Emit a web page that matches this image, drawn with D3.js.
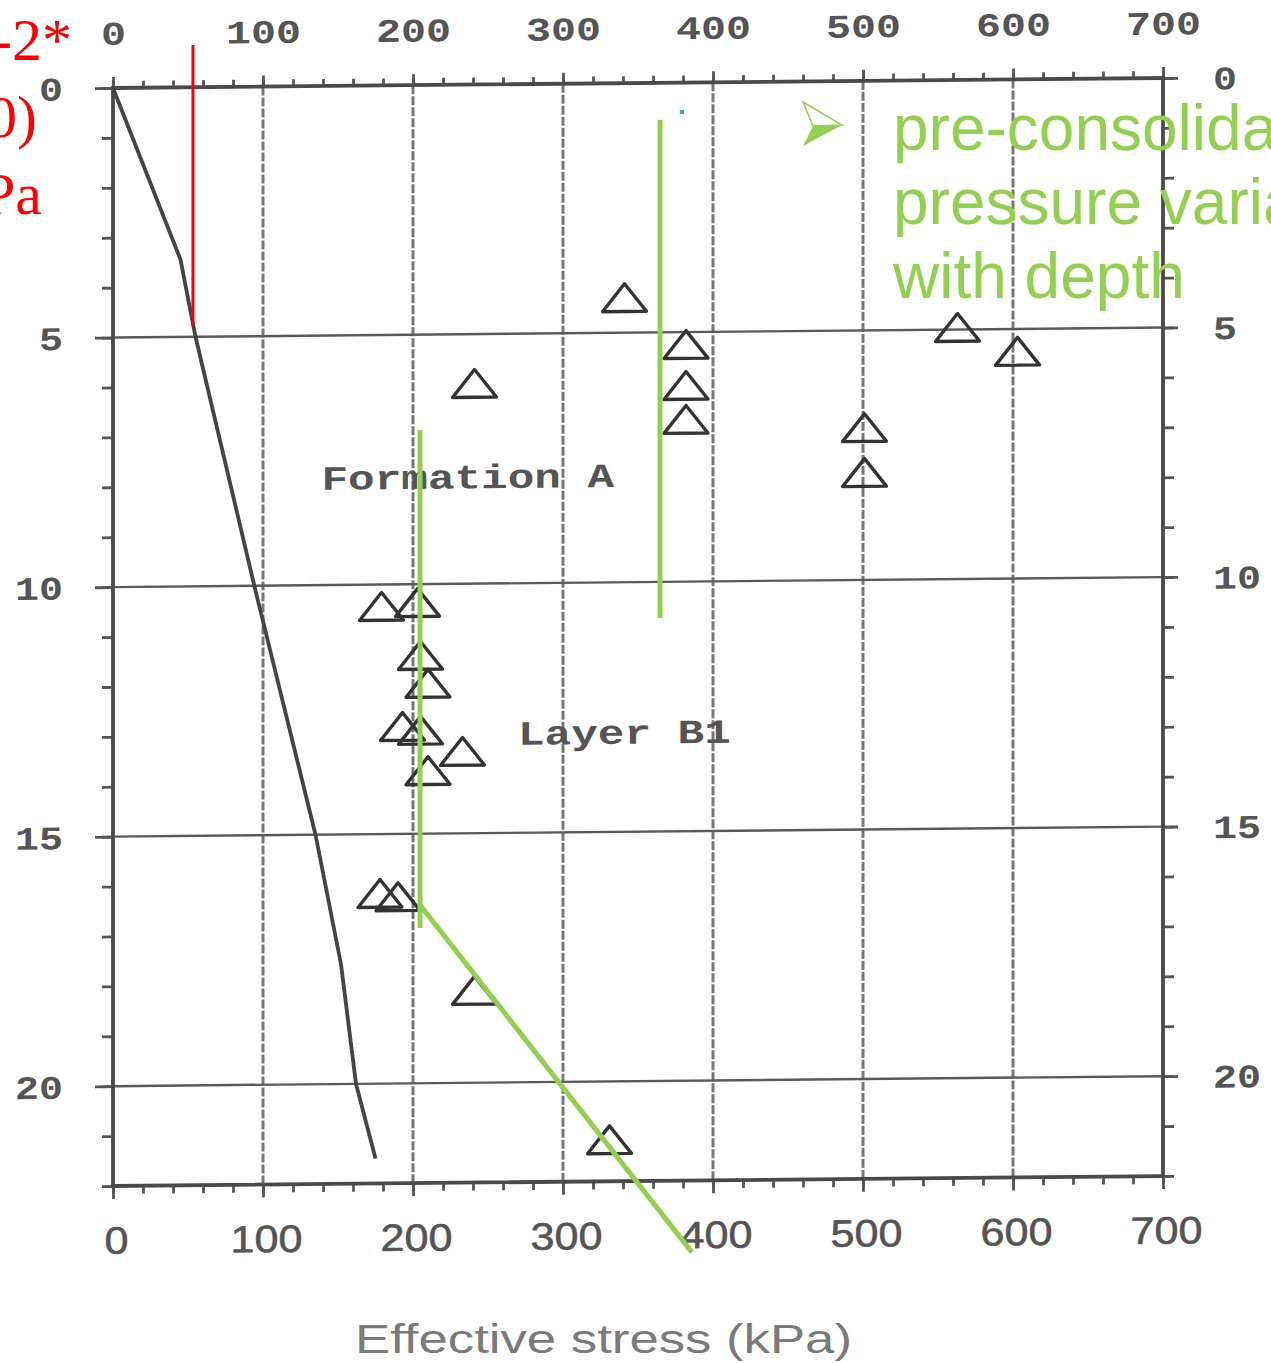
<!DOCTYPE html>
<html>
<head>
<meta charset="utf-8">
<script src="https://cdn.jsdelivr.net/npm/d3@7"></script>
<style>
  body { margin: 0; background: #fff; }
  svg { display: block; }
</style>
</head>
<body>
<svg id="chart" width="1271" height="1363"></svg>
<script>
// axis ticks
const stressTicks = [0, 100, 200, 300, 400, 500, 600, 700];
const depthTicks = [0, 5, 10, 15, 20];
const stressMinor = [0, 20, 40, 60, 80, 100, 120, 140, 160, 180, 200, 220, 240, 260, 280, 300, 320, 340, 360, 380, 400, 420, 440, 460, 480, 500, 520, 540, 560, 580, 600, 620, 640, 660, 680, 700];
const depthMinor = [0, 1, 2, 3, 4, 5, 6, 7, 8, 9, 10, 11, 12, 13, 14, 15, 16, 17, 18, 19, 20, 21, 22];

// oedometer test points (kPa, m)
const testStress = [341, 382, 382, 382, 241, 563, 603, 501, 501, 179, 203, 205, 210, 193, 205, 233, 210, 178, 190, 241, 331];
const testDepth = [4.35, 5.30, 6.12, 6.80, 6.04, 5.01, 5.50, 7.00, 7.90, 10.49, 10.42, 11.48, 12.04, 12.90, 12.98, 13.41, 13.79, 16.24, 16.31, 18.20, 21.22];

// in situ effective stress profile
const lineStress = [0, 45, 55, 95, 135, 152, 162, 175];
const lineDepth = [0, 3.45, 5.0, 10.1, 15.0, 17.6, 20.0, 21.5];

// overlay annotations (kPa, m)
const redStress = [53.3, 53.3];
const redDepth = [-0.86, 4.75];
const greenA = { stress: [364.7, 364.7], depth: [0.64, 10.62] };
const greenB = { stress: [204.7, 204.7], depth: [6.85, 16.83] };
const greenC = { stress: [204.7, 386], depth: [16.37, 23.33] };

const layerLabels = ['Formation A', 'Layer B1'];
const layerStress = [139, 270];
const layerDepth = [7.85, 13.0];
const noteLines = ['pre-consolidation', 'pressure variation', 'with depth'];
const redLines = ['-2*', '0)', 'Pa'];

const green = '#92d050';
const svg = d3.select('#chart');

const x = d3.scaleLinear().domain([0, 700]).range([113, 1163]);
const y = d3.scaleLinear().domain([0, 22]).range([88, 1186]);

// scanned chart is slightly skewed
const chart = svg.append('g').attr('transform', 'translate(0,1.07) skewY(-0.545)');

// grid
chart.append('g')
  .selectAll('line')
  .data(stressTicks.slice(1, -1))
  .join('line')
  .attr('x1', d => x(d)).attr('x2', d => x(d))
  .attr('y1', y(0)).attr('y2', y(22))
  .attr('stroke', '#777').attr('stroke-width', 3)
  .attr('stroke-dasharray', '9,2');

chart.append('g')
  .selectAll('line')
  .data(depthTicks.slice(1))
  .join('line')
  .attr('x1', x(0)).attr('x2', x(700))
  .attr('y1', d => y(d)).attr('y2', d => y(d))
  .attr('stroke', '#5a5a5a').attr('stroke-width', 2.4);

const styleAxis = g => {
  g.select('.domain').remove();
  g.selectAll('line').attr('stroke', '#555').attr('stroke-width', 2.8);
};

// minor ticks
chart.append('g').attr('transform', `translate(0,${y(0)})`)
  .call(d3.axisTop(x).tickValues(stressMinor).tickSize(7).tickFormat(''))
  .call(styleAxis);
chart.append('g').attr('transform', `translate(0,${y(22)})`)
  .call(d3.axisBottom(x).tickValues(stressMinor).tickSize(8).tickFormat(''))
  .call(styleAxis);
chart.append('g').attr('transform', `translate(${x(0)},0)`)
  .call(d3.axisLeft(y).tickValues(depthMinor).tickSize(11).tickFormat(''))
  .call(styleAxis);
chart.append('g').attr('transform', `translate(${x(700)},0)`)
  .call(d3.axisRight(y).tickValues(depthMinor).tickSize(11).tickFormat(''))
  .call(styleAxis);

const monoLabels = (g, per) => {
  g.selectAll('text')
    .attr('font-family', "'Liberation Mono', 'DejaVu Sans Mono', monospace")
    .attr('font-weight', 'bold')
    .attr('font-size', 33)
    .attr('fill', '#555')
    .attr('dy', '0.35em')
    .each(function () {
      const t = d3.select(this);
      t.attr('textLength', t.text().length * per).attr('lengthAdjust', 'spacingAndGlyphs');
    });
};

// major ticks + labels
chart.append('g').attr('transform', `translate(0,${y(0)})`)
  .call(d3.axisTop(x).tickValues(stressTicks).tickSize(11).tickPadding(44))
  .call(styleAxis)
  .call(g => g.selectAll('text').attr('y', -55))
  .call(g => monoLabels(g, 25));

chart.append('g').attr('transform', `translate(0,${y(22)})`)
  .call(d3.axisBottom(x).tickValues(stressTicks).tickSize(13))
  .call(styleAxis)
  .call(g => g.selectAll('text')
    .attr('x', 3)
    .attr('y', 54).attr('dy', '0.36em')
    .attr('font-family', "'Liberation Sans', Arial, sans-serif")
    .attr('font-size', 38)
    .attr('fill', '#555')
    .attr('stroke', '#555').attr('stroke-width', 0.6)
    .each(function () {
      const t = d3.select(this);
      t.attr('textLength', t.text().length * 24).attr('lengthAdjust', 'spacingAndGlyphs');
    }));

chart.append('g').attr('transform', `translate(${x(0)},0)`)
  .call(d3.axisLeft(y).tickValues(depthTicks).tickSize(18).tickPadding(32))
  .call(styleAxis)
  .call(g => monoLabels(g, 24));

chart.append('g').attr('transform', `translate(${x(700)},0)`)
  .call(d3.axisRight(y).tickValues(depthTicks).tickSize(15).tickPadding(35))
  .call(styleAxis)
  .call(g => monoLabels(g, 24));

// frame
chart.append('rect')
  .attr('x', x(0)).attr('y', y(0))
  .attr('width', x(700) - x(0)).attr('height', y(22) - y(0))
  .attr('fill', 'none').attr('stroke', '#4a4a4a').attr('stroke-width', 3.8);

// effective stress line
chart.append('path')
  .datum(lineStress.map((s, i) => [s, lineDepth[i]]))
  .attr('d', d3.line().x(d => x(d[0])).y(d => y(d[1])))
  .attr('fill', 'none').attr('stroke', '#444').attr('stroke-width', 3.8);

// test points
const tri = d3.symbol().type(d3.symbolTriangle).size(600);
chart.append('g')
  .selectAll('path')
  .data(testStress.map((s, i) => [s, testDepth[i]]))
  .join('path')
  .attr('d', tri)
  .attr('transform', d => `translate(${x(d[0])},${y(d[1]) + 2}) scale(1.18,0.86)`)
  .attr('vector-effect', 'non-scaling-stroke')
  .attr('stroke-linejoin', 'round')
  .attr('fill', 'none').attr('stroke', '#333').attr('stroke-width', 3.4);

// layer labels
chart.append('g')
  .selectAll('text')
  .data(layerLabels)
  .join('text')
  .attr('x', (d, i) => x(layerStress[i])).attr('y', (d, i) => y(layerDepth[i]))
  .attr('dy', '0.35em')
  .attr('font-family', "'Liberation Mono', 'DejaVu Sans Mono', monospace")
  .attr('font-weight', 'bold').attr('font-size', 34)
  .attr('fill', '#555')
  .attr('textLength', d => d.length * 26.6).attr('lengthAdjust', 'spacingAndGlyphs')
  .text(d => d);

// axis title
svg.append('text')
  .attr('x', 355).attr('y', 1353)
  .attr('font-family', "'Liberation Sans', Arial, sans-serif")
  .attr('font-size', 40).attr('fill', '#7a7a7a')
  .attr('textLength', 497).attr('lengthAdjust', 'spacingAndGlyphs')
  .text('Effective stress (kPa)');

// overlays
const seg = d3.line().x(d => x(d[0])).y(d => y(d[1]));
svg.append('path')
  .datum(redStress.map((s, i) => [s, redDepth[i]]))
  .attr('d', seg).attr('stroke', '#ff0000').attr('stroke-width', 3).attr('fill', 'none');

[greenA, greenB, greenC].forEach(l => {
  svg.append('path')
    .datum(l.stress.map((s, i) => [s, l.depth[i]]))
    .attr('d', seg).attr('stroke', green).attr('stroke-width', 5).attr('fill', 'none');
});

svg.append('rect').attr('x', 680).attr('y', 110).attr('width', 4).attr('height', 4).attr('fill', '#1fb58f');

// bullet arrowhead
const bullet = svg.append('g').attr('transform', 'translate(803,102)');
bullet.append('path')
  .attr('d', 'M0,0 L39,23 L10,24 Z')
  .attr('fill', 'none').attr('stroke', green).attr('stroke-width', 1.5);
bullet.append('path')
  .attr('d', 'M10,24 L39,23 L0,44 Z')
  .attr('fill', green);

svg.append('g')
  .selectAll('text')
  .data(noteLines)
  .join('text')
  .attr('x', 893).attr('y', (d, i) => 150 + i * 74)
  .attr('font-family', "'Liberation Sans', Arial, sans-serif")
  .attr('font-size', 64).attr('fill', green)
  .text(d => d);

svg.append('g')
  .selectAll('text')
  .data(redLines)
  .join('text')
  .attr('x', (d, i) => [72, 37, 42][i]).attr('y', (d, i) => 60 + i * 77)
  .attr('text-anchor', 'end')
  .attr('font-family', "'Liberation Serif', 'Times New Roman', serif")
  .attr('font-size', 60).attr('fill', '#ff0000')
  .text(d => d);
</script>
</body>
</html>
